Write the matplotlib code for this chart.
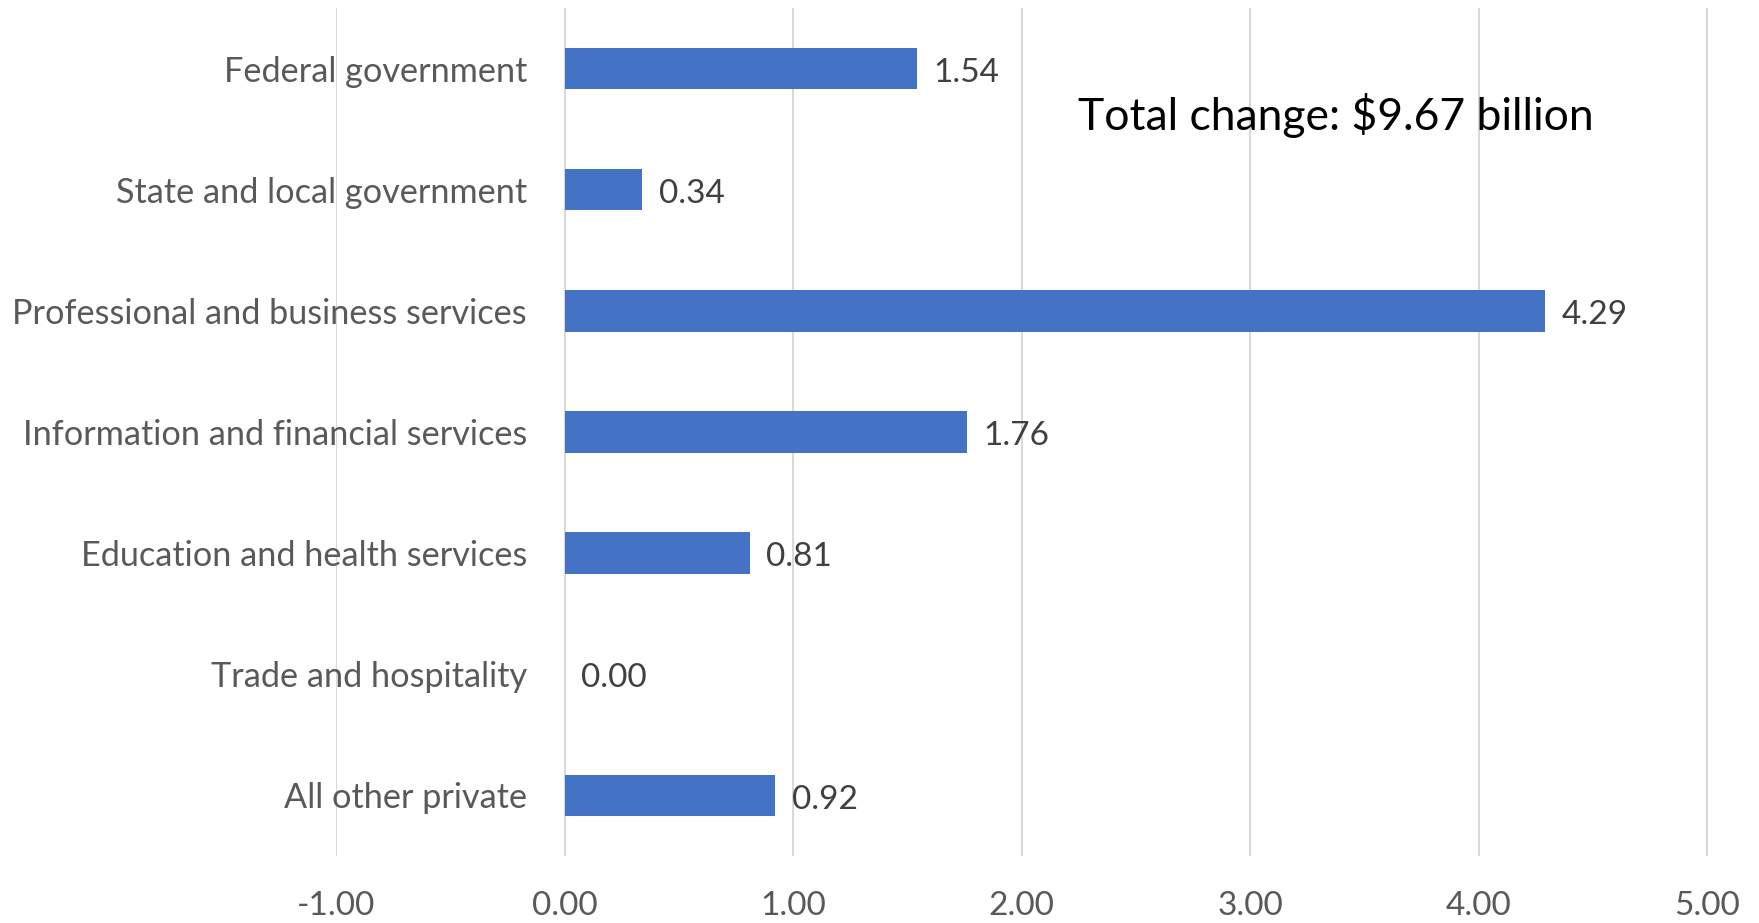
import matplotlib
matplotlib.use("Agg")
import matplotlib.pyplot as plt
from matplotlib.ticker import FixedLocator, FuncFormatter

categories = ["Federal government", "State and local government",
              "Professional and business services", "Information and financial services",
              "Education and health services", "Trade and hospitality", "All other private"]
values = [1.54, 0.34, 4.29, 1.76, 0.81, 0.00, 0.92]
xticks = [-1, 0, 1, 2, 3, 4, 5]
note = "Total change: $9.67 billion"

plt.rcParams['font.family'] = ['Lato', 'DejaVu Sans']

fig = plt.figure(figsize=(17.59, 9.23), dpi=100)
ax = fig.add_axes([336/1759, 1-856/923, (1707.5-336)/1759, (856-8)/923])

ypos = list(range(len(categories)))
ax.barh(ypos, values, height=0.343, color="#4472C4", zorder=3)
ax.set_ylim(len(categories)-0.5, -0.5)
ax.set_xlim(-1, 5)

ax.xaxis.set_major_locator(FixedLocator(xticks))
ax.xaxis.set_major_formatter(FuncFormatter(lambda v, p: f"{v:.2f}"))
ax.grid(axis="x", color="#D9D9D9", linewidth=1.5, zorder=0)
ax.set_axisbelow(True)
for s in ["top", "right", "bottom", "left"]:
    ax.spines[s].set_visible(False)
ax.spines["left"].set_position(("data", 0))

ax.set_yticks(ypos)
ax.set_yticklabels(categories)
ax.tick_params(axis="y", length=0, pad=27, labelsize=24.7, labelcolor="#595959")
ax.tick_params(axis="x", length=0, pad=25, labelsize=24, labelcolor="#595959")

for y, v in zip(ypos, values):
    ax.annotate(f"{v:.2f}", xy=(v, y), xytext=(12, -3), textcoords="offset points",
                ha="left", va="center", fontsize=24, color="#404040")

ax.text(2.246, 0.39, note, fontsize=32, color="black", ha="left", va="center")

fig.savefig("out.png", dpi=100)
